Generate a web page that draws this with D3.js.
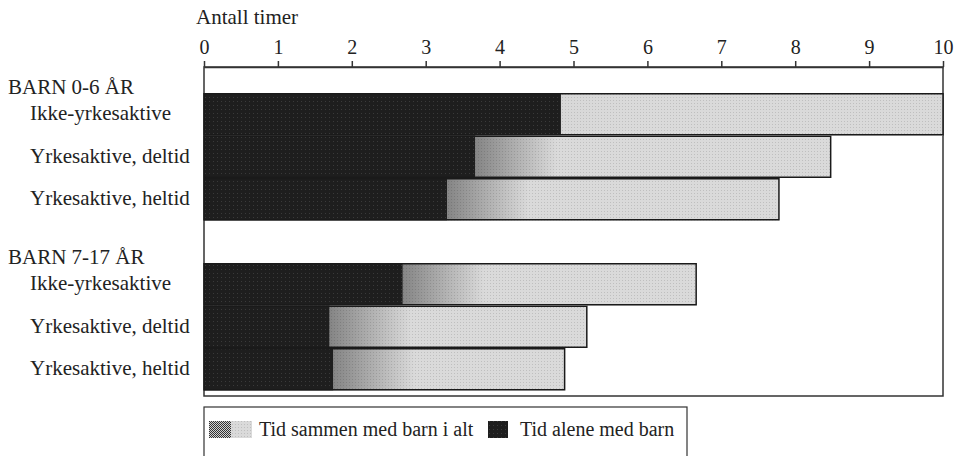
<!DOCTYPE html>
<html><head><meta charset="utf-8">
<script src="https://cdn.jsdelivr.net/npm/d3@7"></script>
<style>
html,body{margin:0;padding:0;background:#fff;}
svg{display:block;font-family:"Liberation Serif","Times New Roman",serif;}
</style></head>
<body>
<svg id="chart" width="957" height="456"></svg>
<script>
// ---- data ----
const groupHeaders = ["BARN 0-6 ÅR", "BARN 7-17 ÅR"];
const rowGroup = [0, 0, 0, 1, 1, 1];
const rowLabels = ["Ikke-yrkesaktive", "Yrkesaktive, deltid", "Yrkesaktive, heltid",
                   "Ikke-yrkesaktive", "Yrkesaktive, deltid", "Yrkesaktive, heltid"];
const totalHours = [10.0, 8.48, 7.78, 6.66, 5.18, 4.88];   // Tid sammen med barn i alt
const aloneHours = [4.83, 3.67, 3.29, 2.69, 1.70, 1.75];   // Tid alene med barn
const tickValues = [0, 1, 2, 3, 4, 5, 6, 7, 8, 9, 10];
const axisTitle = "Antall timer";
const legendLabels = ["Tid sammen med barn i alt", "Tid alene med barn"];

// ---- layout ----
const svg = d3.select("#chart");
const mLeft = 204, mRight = 943, mTop = 67, mBottom = 396;
const textColor = "#222";
const fontSize = 20;
const labelSize = 21;

const x = d3.scaleLinear().domain([0, 10]).range([mLeft, mRight]);
const slots = ["r0", "r1", "r2", "gap", "r3", "r4", "r5"];
const y = d3.scaleBand().domain(slots).range([93, 93 + 7 * 42.5]).padding(0);
const slotOf = i => slots[i < 3 ? i : i + 1];

const defs = svg.append("defs");
// dark texture
const pd = defs.append("pattern").attr("id", "pDark").attr("width", 4).attr("height", 4)
  .attr("patternUnits", "userSpaceOnUse");
pd.append("rect").attr("width", 4).attr("height", 4).attr("fill", "#1e1e1e");
pd.append("rect").attr("x", 1).attr("y", 1).attr("width", 1).attr("height", 1).attr("fill", "#3a3a3a");
// light dot texture
const pl = defs.append("pattern").attr("id", "pLight").attr("width", 3).attr("height", 3)
  .attr("patternUnits", "userSpaceOnUse");
pl.append("rect").attr("width", 3).attr("height", 3).attr("fill", "none");
pl.append("rect").attr("x", 1).attr("y", 1).attr("width", 1).attr("height", 1).attr("fill", "rgba(0,0,0,0.12)");
// mid checker for legend
const pm = defs.append("pattern").attr("id", "pMid").attr("width", 2).attr("height", 2)
  .attr("patternUnits", "userSpaceOnUse");
pm.append("rect").attr("width", 2).attr("height", 2).attr("fill", "#d0d0d0");
pm.append("rect").attr("width", 1).attr("height", 1).attr("fill", "#333");
pm.append("rect").attr("x", 1).attr("y", 1).attr("width", 1).attr("height", 1).attr("fill", "#333");

// gradients per bar for the light segment
rowLabels.forEach((d, i) => {
  const g = defs.append("linearGradient").attr("id", "g" + i)
    .attr("gradientUnits", "userSpaceOnUse")
    .attr("x1", x(aloneHours[i])).attr("x2", x(aloneHours[i] + 1.1))
    .attr("y1", 0).attr("y2", 0);
  g.append("stop").attr("offset", 0).attr("stop-color", i === 0 ? "#d8d8d8" : "#858585");
  g.append("stop").attr("offset", 1).attr("stop-color", "#dadada");
});

// frame
svg.append("rect").attr("x", mLeft).attr("y", mTop).attr("width", mRight - mLeft).attr("height", mBottom - mTop)
  .attr("fill", "none").attr("stroke", "#333").attr("stroke-width", 1.5);

// bars
const bars = svg.append("g");
rowLabels.forEach((d, i) => {
  const y0 = y(slotOf(i)), h = y.bandwidth();
  bars.append("rect").attr("x", x(aloneHours[i])).attr("y", y0)
    .attr("width", x(totalHours[i]) - x(aloneHours[i])).attr("height", h)
    .attr("fill", `url(#g${i})`);
  bars.append("rect").attr("x", x(aloneHours[i])).attr("y", y0)
    .attr("width", x(totalHours[i]) - x(aloneHours[i])).attr("height", h)
    .attr("fill", "url(#pLight)");
  bars.append("rect").attr("x", x(0)).attr("y", y0)
    .attr("width", x(aloneHours[i]) - x(0)).attr("height", h)
    .attr("fill", "url(#pDark)");
  bars.append("rect").attr("x", x(0)).attr("y", y0 + 0.75)
    .attr("width", x(totalHours[i]) - x(0)).attr("height", h - 1.5)
    .attr("fill", "none").attr("stroke", "#1a1a1a").attr("stroke-width", 1.5);
});

// axis
const axis = svg.append("g").attr("transform", `translate(0,${mTop})`)
  .call(d3.axisTop(x).tickValues(tickValues).tickSize(6).tickSizeOuter(0).tickPadding(7)
    .tickFormat(d3.format("d")));
axis.select(".domain").attr("stroke", "#333").attr("stroke-width", 1.5);
axis.selectAll(".tick line").attr("stroke", "#333").attr("stroke-width", 1.5);
axis.selectAll(".tick text").attr("font-size", fontSize).attr("fill", textColor)
  .attr("font-family", "Liberation Serif");

svg.append("text").attr("x", 196).attr("y", 24).attr("font-size", labelSize)
  .attr("fill", textColor).text(axisTitle);

// group headers
groupHeaders.forEach((g, gi) => {
  const first = rowGroup.indexOf(gi);
  svg.append("text").attr("x", 8).attr("y", y(slotOf(first)) + 1)
    .attr("font-size", labelSize).attr("fill", textColor).text(g);
});
// row labels
rowLabels.forEach((d, i) => {
  svg.append("text").attr("x", 30).attr("y", y(slotOf(i)) + y.bandwidth() / 2 + 6)
    .attr("font-size", labelSize).attr("fill", textColor).text(d);
});

// legend
const lg = svg.append("g");
lg.append("rect").attr("x", 204).attr("y", 407).attr("width", 483).attr("height", 70)
  .attr("fill", "none").attr("stroke", "#333").attr("stroke-width", 1.2);
lg.append("rect").attr("x", 209).attr("y", 421).attr("width", 22).attr("height", 17).attr("fill", "url(#pMid)");
lg.append("rect").attr("x", 231).attr("y", 421).attr("width", 21).attr("height", 17).attr("fill", "#dadada");
lg.append("rect").attr("x", 231).attr("y", 421).attr("width", 21).attr("height", 17).attr("fill", "url(#pLight)");
lg.append("text").attr("x", 259).attr("y", 436).attr("font-size", fontSize).attr("fill", textColor).text(legendLabels[0]);
lg.append("rect").attr("x", 488).attr("y", 421).attr("width", 20).attr("height", 17).attr("fill", "url(#pDark)");
lg.append("text").attr("x", 520).attr("y", 436).attr("font-size", fontSize).attr("fill", textColor).text(legendLabels[1]);
</script>
</body></html>
